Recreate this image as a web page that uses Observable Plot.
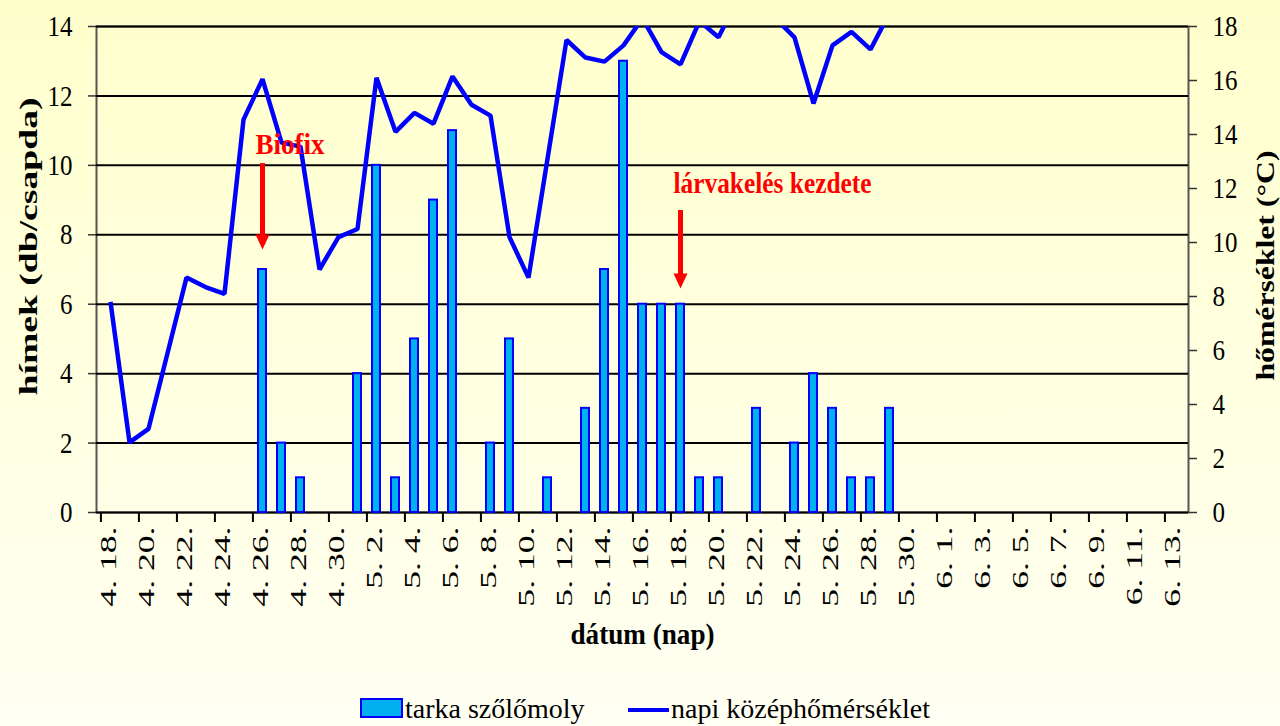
<!DOCTYPE html>
<html lang="hu">
<head>
<meta charset="utf-8">
<script src="https://cdn.jsdelivr.net/npm/d3@7"></script>
<script src="https://cdn.jsdelivr.net/npm/@observablehq/plot@0.6"></script>
<style>
html, body { margin:0; padding:0; }
body { width:1280px; height:726px; overflow:hidden; position:relative;
  background: linear-gradient(to bottom, #FFFFCC 0%, #FFFFF3 100%);
  font-family: "Liberation Serif", "Times New Roman", serif; }
#chart svg { display:block; }
#chart svg text { font-family: "Liberation Serif", "Times New Roman", serif; }
#legend { position:absolute; left:0; top:690px; width:1280px; height:36px; font-size:28px; color:#000; }
#legend .sw { position:absolute; box-sizing:border-box; }
#legend .lbl { position:absolute; line-height:28px; white-space:nowrap; }
</style>
</head>
<body>
<div id="chart"></div>
<div id="legend"></div>
<script>
// ---- data ----
const dates = [
  "4. 18.","4. 19.","4. 20.","4. 21.","4. 22.","4. 23.","4. 24.","4. 25.","4. 26.","4. 27.","4. 28.","4. 29.","4. 30.",
  "5. 1.","5. 2.","5. 3.","5. 4.","5. 5.","5. 6.","5. 7.","5. 8.","5. 9.","5. 10.","5. 11.","5. 12.","5. 13.","5. 14.",
  "5. 15.","5. 16.","5. 17.","5. 18.","5. 19.","5. 20.","5. 21.","5. 22.","5. 23.","5. 24.","5. 25.","5. 26.","5. 27.",
  "5. 28.","5. 29.","5. 30.","5. 31.",
  "6. 1.","6. 2.","6. 3.","6. 4.","6. 5.","6. 6.","6. 7.","6. 8.","6. 9.","6. 10.","6. 11.","6. 12.","6. 13."
];
// tarka szőlőmoly (hímek, db/csapda)
const moths = [
  0,0,0,0,0,0,0,0,7,2,1,0,0,
  4,10,1,5,9,11,0,2,5,0,1,0,3,7,
  13,6,6,6,1,1,0,3,0,2,4,3,1,
  1,3,0,0,
  0,0,0,0,0,0,0,0,0,0,0,0,0
];
// napi középhőmérséklet (°C), 4.18 – 5.29
const temps = [
  7.8,2.6,3.1,5.9,8.7,8.35,8.1,14.55,16.05,13.7,13.55,9.0,10.2,
  10.5,16.1,14.1,14.8,14.4,16.15,15.1,14.7,10.2,8.7,13.1,17.5,16.85,16.7,
  17.3,18.3,17.05,16.6,18.2,17.6,19.0,20.0,18.3,17.6,15.15,17.3,17.8,
  17.15,18.5
];
const leftTicks = [0,2,4,6,8,10,12,14];
const tempTicks = [0,2,4,6,8,10,12,14,16,18];
const seriesNames = ["tarka szőlőmoly", "napi középhőmérséklet"];
const xTitle = "dátum (nap)";
const yLeftTitle = "hímek (db/csapda)";
const yRightTitle = "hőmérséklet (°C)";
const annDates = ["4. 26.", "5. 18."];
const annLabels = ["Biofix", "lárvakelés kezdete"];
const annTop = [10.05, 8.70];
const annHead = [7.79, 6.67];
const annTextY = [10.59, 9.49];

// ---- derived tables ----
const k = 14 / 18; // temperature -> left axis units
const barData = dates.map((d, i) => ({date: d, value: moths[i]})).filter(d => d.value > 0);
const tempData = temps.map((t, i) => ({date: dates[i], yv: t * k}));
const tickDates = dates.filter((d, i) => i % 2 === 0);
const annData = annDates.map((d, i) => ({date: d, label: annLabels[i], top: annTop[i], head: annHead[i], textY: annTextY[i]}));

const W = 1280, H = 690, ML = 96, MR = 92, MT = 26, MB = 178;
const step = (W - ML - MR) / dates.length;
const FONT = "'Liberation Serif', 'Times New Roman', serif";

const downTri = {
  draw(ctx, size) {
    const w = Math.sqrt(size), h = w * 1.07;
    ctx.moveTo(-w / 2, -h / 2);
    ctx.lineTo(w / 2, -h / 2);
    ctx.lineTo(0, h / 2);
    ctx.closePath();
  }
};

const chart = Plot.plot({
  width: W, height: H,
  marginTop: MT, marginRight: MR, marginBottom: MB, marginLeft: ML,
  style: {background: "transparent", color: "#000", fontFamily: FONT, overflow: "visible"},
  x: {type: "band", domain: dates, paddingInner: 0.58, paddingOuter: 0.29},
  y: {domain: [0, 14]},
  marks: [
    Plot.frame({stroke: "#555", strokeWidth: 2}),
    Plot.ruleY(leftTicks, {stroke: "#000", strokeWidth: 2}),
    Plot.barY(barData, {x: "date", y: "value", fill: "#00B0F0", stroke: "#0000FF", strokeWidth: 2}),
    Plot.line(tempData, {x: "date", y: "yv", stroke: "#0000FF", strokeWidth: 4.5, strokeLinejoin: "miter", strokeLinecap: "butt", clip: true}),
    Plot.ruleX(annData, {x: "date", y1: "top", y2: "head", stroke: "#FF0000", strokeWidth: 5}),
    Plot.dot(annData, {x: "date", y: "head", symbol: downTri, r: 7.9, fill: "#FF0000", stroke: null}),
    Plot.text(annData, {x: "date", y: "textY", text: "label", textAnchor: "start", dx: -7, fill: "#FF0000", fontWeight: "bold", fontSize: 26, fontFamily: FONT}),
    Plot.axisY(leftTicks, {anchor: "left", tickSize: 8, tickPadding: 16, fontSize: 25, fontFamily: FONT, label: null, stroke: "#333", strokeWidth: 1.5}),
    Plot.axisY(tempTicks.map(t => t * k), {anchor: "right", tickSize: 8, tickPadding: 16, fontSize: 25, fontFamily: FONT, label: null,
      tickFormat: v => String(Math.round(v / k)), stroke: "#333", strokeWidth: 1.5}),
    Plot.axisX(tickDates, {anchor: "bottom", tickSize: 10, fill: "none", dx: -step / 2, label: null, stroke: "#000", strokeWidth: 2}),
    Plot.axisX(tickDates, {anchor: "bottom", tickSize: 0, tickPadding: 14, tickRotate: -90, fontSize: 23, fontFamily: FONT, dx: -2, label: null}),
    Plot.text([xTitle], {frameAnchor: "bottom", text: d => d, textAnchor: "middle", lineAnchor: "middle", dy: 122, fontWeight: "bold", fontSize: 27, fontFamily: FONT}),
    Plot.text([yLeftTitle], {frameAnchor: "left", text: d => d, textAnchor: "middle", lineAnchor: "middle", rotate: -90, dx: -68, dy: -23, fontWeight: "bold", fontSize: 26, fontFamily: FONT}),
    Plot.text([yRightTitle], {frameAnchor: "right", text: d => d, textAnchor: "middle", lineAnchor: "middle", rotate: -90, dx: 77, dy: -4, fontWeight: "bold", fontSize: 26, fontFamily: FONT})
  ]
});
document.getElementById("chart").appendChild(chart);

// ---- mimic the vertically stretched look of the original text ----
function stretch(el, sx, sy) {
  const t = el.getAttribute("transform");
  if (t) el.setAttribute("transform", t + ` scale(${sx},${sy})`);
  else {
    const x = +el.getAttribute("x") || 0, y = +el.getAttribute("y") || 0;
    el.removeAttribute("x"); el.removeAttribute("y");
    el.setAttribute("transform", `translate(${x},${y}) scale(${sx},${sy})`);
  }
}
const svg = d3.select(chart);
svg.selectAll('g[aria-label="y-axis tick label"] text').each(function() { stretch(this, 1, 1.2); });
svg.selectAll('g[aria-label="x-axis tick label"] text').each(function() { stretch(this, 1.55, 1); });
const fit = new Map([
  [annLabels[0], {len: 69, sx: 1, sy: 1.15}],
  [annLabels[1], {len: 198, sx: 1, sy: 1.15}],
  [xTitle, {len: 144, sx: 1, sy: 1.1}],
  [yLeftTitle, {len: 298, sx: 1, sy: 1}],
  [yRightTitle, {len: 230, sx: 1, sy: 1}]
]);
svg.selectAll("text").each(function() {
  const f = fit.get(this.textContent);
  if (!f) return;
  this.setAttribute("textLength", f.len);
  this.setAttribute("lengthAdjust", "spacingAndGlyphs");
  if (f.sx !== 1 || f.sy !== 1) stretch(this, f.sx, f.sy);
});

// ---- legend (below the svg) ----
const legend = document.getElementById("legend");
legend.innerHTML =
  `<div class="sw" style="left:360px;top:8px;width:43px;height:20px;background:#00B0F0;border:2px solid #0000FF"></div>` +
  `<div class="lbl" style="left:405px;top:5px">${seriesNames[0]}</div>` +
  `<div class="sw" style="left:628px;top:18px;width:41px;height:4px;background:#0000FF"></div>` +
  `<div class="lbl" style="left:671px;top:5px">${seriesNames[1]}</div>`;
</script>
</body>
</html>
